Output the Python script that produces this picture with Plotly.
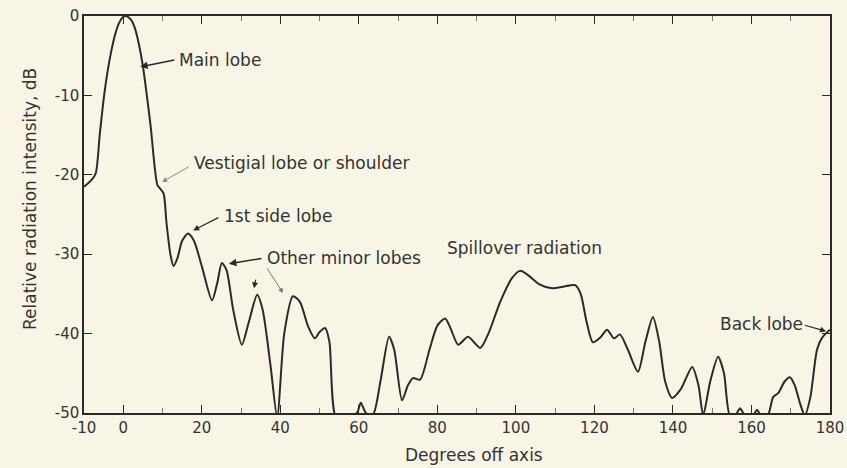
import plotly.graph_objects as go

# Radiation pattern (degrees off axis, relative dB)
angle_deg = [-10, -8, -7, -6, -5, -4, -3, -2, -1, 0, 0.7, 2, 3, 4, 5, 6, 7, 8, 8.7, 9.5, 10.3,
             11, 12, 12.8, 13.8, 15, 16.5, 18, 20, 22.6, 24, 25.1, 26.3, 28, 30.2, 32, 34.1,
             35.5, 37.5, 39.2, 41, 43.2, 45, 47, 48.8, 50, 51.4, 52.5, 54.2, 57, 59.5, 60.5,
             61.8, 63.6, 65.5, 67.7, 69, 71.0, 72.5, 73.8, 75.6, 78, 80, 82.0, 83.5, 85.3,
             87.8, 90.9, 93, 96, 99, 101.1, 103, 106, 109.2, 112, 115.1, 116.5, 118, 119.6,
             121.5, 123.2, 125, 126.5, 128.5, 131.1, 133, 134.9, 136.5, 138, 139.8, 142,
             144.9, 146.5, 147.7, 149.5, 151.5, 153, 154.5, 156, 157.1, 158.2, 160.5, 161.4,
             162.3, 164.2, 165.5, 166.8, 168.5, 169.8, 171, 172.5, 173.6, 175, 176.7, 178, 180]
intensity_db = [-21.5, -20.6, -19.8, -15, -10.5, -7, -4.3, -2.2, -0.8, -0.1, 0, -0.5, -1.6,
                -3.6, -6.3, -10, -14, -19, -21.3, -21.8, -22.4, -26, -30, -31.5, -30.5, -28.3,
                -27.4, -28.3, -31.5, -35.8, -33.5, -31.1, -32, -37, -41.4, -38.5, -35.1, -37,
                -44, -50.5, -40, -35.3, -36, -39, -40.6, -39.8, -39.3, -41, -50.5, -50.3, -50,
                -48.7, -50, -50.2, -46, -40.4, -42, -48.4, -46.5, -45.6, -45.8, -42, -39, -38.1,
                -39.5, -41.4, -40.4, -41.8, -40, -36, -33, -32.1, -32.6, -33.8, -34.3, -34.1,
                -33.9, -35, -38.5, -41.1, -40.5, -39.5, -40.6, -40.1, -42, -44.8, -41, -37.9,
                -41, -46, -48.1, -47, -44.2, -46.5, -50.3, -46, -42.9, -45, -50.3, -50.2,
                -49.4, -50.2, -50.2, -49.6, -50.2, -50.2, -48, -47.5, -46, -45.5, -46.5, -49,
                -50.3, -48, -42, -40.5, -39.5]

x_ticks = [-10, 0, 20, 40, 60, 80, 100, 120, 140, 160, 180]
y_ticks = [0, -10, -20, -30, -40, -50]

ink = "#2a2a2a"
bg = "#f8f5e6"
font_main = "DejaVu Sans"

fig = go.Figure()
fig.add_trace(go.Scatter(
    x=angle_deg, y=intensity_db, mode="lines",
    line=dict(color=ink, width=2, shape="spline", smoothing=0.7),
    hoverinfo="skip", showlegend=False,
))

axis_common = dict(
    showgrid=False, zeroline=False, showline=True, linecolor=ink, linewidth=1.5,
    mirror="ticks", ticks="inside", ticklen=8, tickcolor=ink, tickwidth=1.2,
    tickfont=dict(family=font_main, size=15, color="#333"),
    automargin=False,
)

fig.update_layout(
    width=847, height=468,
    margin=dict(l=84, r=17, t=16, b=55),
    paper_bgcolor=bg, plot_bgcolor=bg,
    xaxis=dict(range=[-10, 180], tickvals=x_ticks, ticktext=[str(v) for v in x_ticks],
               minor=dict(dtick=10, tick0=0, ticks="inside", ticklen=5, tickcolor="#777"),
               **axis_common),
    yaxis=dict(range=[-50, 0], tickvals=y_ticks, ticktext=[str(v) for v in y_ticks],
               **axis_common),
    font=dict(family=font_main, color="#333"),
)

ann_font = dict(family=font_main, size=17, color="#333")
annotations = [
    dict(x=4.3, y=-6.4, ax=13.4, ay=-5.5, text="", showarrow=True, arrowhead=2,
         arrowsize=1, arrowwidth=1.5, arrowcolor=ink),
    dict(x=13.7, y=-5.5, text="Main lobe", showarrow=False, xanchor="left"),
    dict(x=9.9, y=-20.9, ax=17.0, ay=-18.9, text="", showarrow=True, arrowhead=2,
         arrowsize=1, arrowwidth=1, arrowcolor="#888"),
    dict(x=17.5, y=-18.5, text="Vestigial lobe or shoulder", showarrow=False, xanchor="left"),
    dict(x=17.8, y=-27.0, ax=24.6, ay=-25.3, text="", showarrow=True, arrowhead=2,
         arrowsize=1, arrowwidth=1.2, arrowcolor=ink),
    dict(x=25.2, y=-25.2, text="1st side lobe", showarrow=False, xanchor="left"),
    dict(x=26.9, y=-31.2, ax=35.6, ay=-30.5, text="", showarrow=True, arrowhead=2,
         arrowsize=1, arrowwidth=1.5, arrowcolor=ink),
    dict(x=33.3, y=-34.3, ax=33.8, ay=-33.0, text="", showarrow=True, arrowhead=2,
         arrowsize=1, arrowwidth=1.2, arrowcolor=ink),
    dict(x=40.7, y=-34.9, ax=36.4, ay=-31.6, text="", showarrow=True, arrowhead=2,
         arrowsize=1, arrowwidth=1, arrowcolor="#777"),
    dict(x=36.1, y=-30.5, text="Other minor lobes", showarrow=False, xanchor="left"),
    dict(x=102.3, y=-29.2, text="Spillover radiation", showarrow=False, xanchor="center"),
    dict(x=179.0, y=-39.7, ax=173.2, ay=-38.9, text="", showarrow=True, arrowhead=2,
         arrowsize=1, arrowwidth=1.2, arrowcolor=ink),
    dict(x=151.5, y=-38.8, text="Back lobe", showarrow=False, xanchor="left"),
]
for a in annotations:
    a.setdefault("xref", "x")
    a.setdefault("yref", "y")
    if a.get("showarrow"):
        a["axref"] = "x"
        a["ayref"] = "y"
    a["font"] = ann_font
    fig.add_annotation(**a)

fig.add_annotation(xref="paper", yref="paper", x=(18 - 84) / 746, y=(413 - 199) / 397,
                   text="Relative radiation intensity, dB", textangle=-90,
                   showarrow=False, font=dict(family=font_main, size=17, color="#333"))
fig.add_annotation(xref="paper", yref="paper", x=(474 - 84) / 746, y=(413 - 455) / 397,
                   text="Degrees off axis", showarrow=False, yanchor="middle",
                   font=dict(family=font_main, size=17, color="#333"))

fig.write_html(
    "out.html",
    config={"displayModeBar": False},
    post_script="document.body.style.margin='0';document.body.style.background='%s';"
                "window.dispatchEvent(new Event('resize'));" % bg,
)
